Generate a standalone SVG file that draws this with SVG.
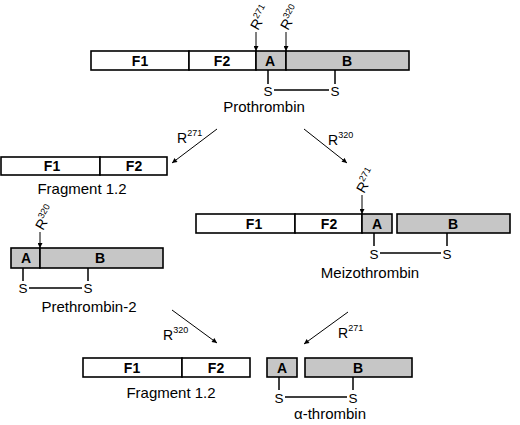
<svg xmlns="http://www.w3.org/2000/svg" width="520" height="425" viewBox="0 0 520 425">
<defs>
<marker id="ah" viewBox="0 0 10 10" refX="10" refY="5" markerWidth="6" markerHeight="5" markerUnits="userSpaceOnUse" orient="auto"><path d="M0,0 L10,5 L0,10 z" fill="#000"/></marker>
</defs>
<style>
.w{fill:#fff;stroke:#000;stroke-width:1.6}
.g{fill:#c6c6c6;stroke:#000;stroke-width:1.6}
text{font-family:"Liberation Sans",Arial,sans-serif;fill:#000}
.lb{font-weight:bold;font-size:14px;text-anchor:middle}
.cap{font-size:15px;text-anchor:middle}
.s{font-size:13.5px;text-anchor:middle}
.ln{stroke:#000;stroke-width:1.5;fill:none}
.ar{stroke:#000;stroke-width:1;fill:none;marker-end:url(#ah)}
.r{font-size:14px}
.sup{font-size:9px}
</style>
<rect width="520" height="425" fill="#fff"/>

<g id="prothrombin">
<rect class="w" x="91" y="51" width="98" height="19"/>
<rect class="w" x="189" y="51" width="67" height="19"/>
<rect class="g" x="256" y="51" width="30" height="19"/>
<rect class="g" x="286" y="51" width="123" height="19"/>
<text class="lb" x="140" y="66">F1</text>
<text class="lb" x="222" y="66">F2</text>
<text class="lb" x="270" y="66">A</text>
<text class="lb" x="347" y="66">B</text>
<line class="ln" x1="268" y1="70" x2="268" y2="84"/>
<line class="ln" x1="335" y1="70" x2="335" y2="84"/>
<line class="ln" x1="274" y1="90" x2="329" y2="90"/>
<text class="s" x="268" y="96">S</text>
<text class="s" x="335" y="96">S</text>
<text class="cap" x="264" y="112">Prothrombin</text>
<g transform="translate(258,31) rotate(-60)"><text class="r">R<tspan class="sup" dy="-6">271</tspan></text></g>
<g transform="translate(288,31) rotate(-60)"><text class="r">R<tspan class="sup" dy="-6">320</tspan></text></g>
<line class="ar" x1="256" y1="32" x2="256" y2="51"/>
<line class="ar" x1="286" y1="32" x2="286" y2="51"/>
</g>

<g id="fragment12-top">
<rect class="w" x="1" y="157" width="99" height="18"/>
<rect class="w" x="100" y="157" width="67" height="18"/>
<text class="lb" x="52" y="171">F1</text>
<text class="lb" x="134" y="171">F2</text>
<text class="cap" x="82" y="194">Fragment 1.2</text>
</g>

<g id="meizothrombin">
<rect class="w" x="196" y="214" width="99" height="19"/>
<rect class="w" x="295" y="214" width="67" height="19"/>
<rect class="g" x="362" y="214" width="30" height="19"/>
<rect class="g" x="397" y="214" width="113" height="19"/>
<text class="lb" x="254" y="229">F1</text>
<text class="lb" x="329" y="229">F2</text>
<text class="lb" x="377" y="229">A</text>
<text class="lb" x="453" y="229">B</text>
<line class="ln" x1="374" y1="233" x2="374" y2="246"/>
<line class="ln" x1="447" y1="233" x2="447" y2="246"/>
<line class="ln" x1="380" y1="253" x2="441" y2="253"/>
<text class="s" x="374" y="259">S</text>
<text class="s" x="447" y="259">S</text>
<text class="cap" x="370" y="278">Meizothrombin</text>
<g transform="translate(364,194) rotate(-60)"><text class="r">R<tspan class="sup" dy="-6">271</tspan></text></g>
<line class="ar" x1="362" y1="195" x2="362" y2="214"/>
</g>

<g id="prethrombin2">
<rect class="g" x="11" y="248" width="29" height="20"/>
<rect class="g" x="40" y="248" width="123" height="20"/>
<text class="lb" x="26" y="263">A</text>
<text class="lb" x="100" y="263">B</text>
<line class="ln" x1="23" y1="268" x2="23" y2="281"/>
<line class="ln" x1="88" y1="268" x2="88" y2="281"/>
<line class="ln" x1="29" y1="288" x2="82" y2="288"/>
<text class="s" x="23" y="293">S</text>
<text class="s" x="88" y="293">S</text>
<text class="cap" x="89" y="312">Prethrombin-2</text>
<g transform="translate(43,231) rotate(-60)"><text class="r">R<tspan class="sup" dy="-6">320</tspan></text></g>
<line class="ar" x1="40" y1="232" x2="40" y2="248"/>
</g>

<g id="fragment12-bottom">
<rect class="w" x="83" y="358" width="99" height="19"/>
<rect class="w" x="182" y="358" width="68" height="19"/>
<text class="lb" x="132" y="373">F1</text>
<text class="lb" x="216" y="373">F2</text>
<text class="cap" x="171" y="398">Fragment 1.2</text>
</g>

<g id="alpha-thrombin">
<rect class="g" x="267" y="358" width="30" height="19"/>
<rect class="g" x="305" y="358" width="107" height="19"/>
<text class="lb" x="282" y="373">A</text>
<text class="lb" x="358" y="373">B</text>
<line class="ln" x1="279" y1="377" x2="279" y2="390"/>
<line class="ln" x1="353" y1="377" x2="353" y2="390"/>
<line class="ln" x1="285" y1="397" x2="347" y2="397"/>
<text class="s" x="279" y="403">S</text>
<text class="s" x="353" y="403">S</text>
<text class="cap" x="330" y="419">α-thrombin</text>
</g>

<g id="connectors">
<line class="ar" x1="217" y1="129" x2="172" y2="163"/>
<text class="r" x="177" y="143">R<tspan class="sup" dy="-7">271</tspan></text>
<line class="ar" x1="304" y1="129" x2="347" y2="163"/>
<text class="r" x="328" y="145">R<tspan class="sup" dy="-7">320</tspan></text>
<line class="ar" x1="172" y1="310" x2="217" y2="343"/>
<text class="r" x="163" y="340">R<tspan class="sup" dy="-7">320</tspan></text>
<line class="ar" x1="348" y1="312" x2="304" y2="344"/>
<text class="r" x="338" y="338">R<tspan class="sup" dy="-7">271</tspan></text>
</g>
</svg>
